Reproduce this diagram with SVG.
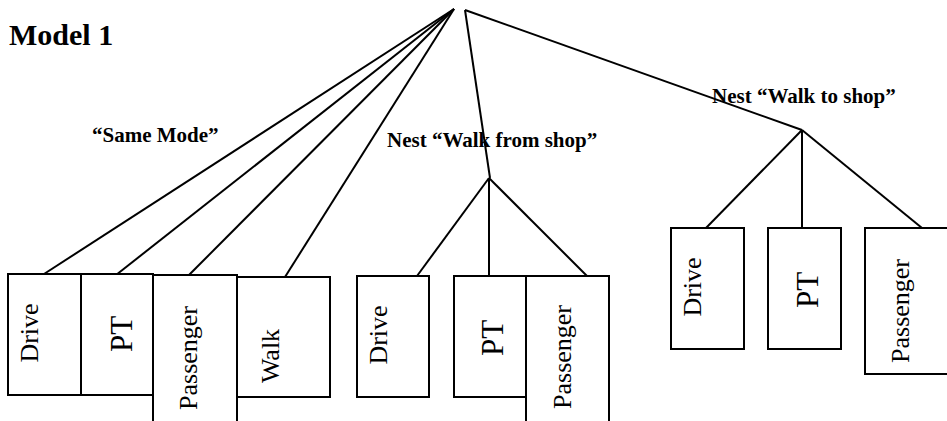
<svg xmlns="http://www.w3.org/2000/svg" width="947" height="421" viewBox="0 0 947 421">
<style>
.bx{fill:#fff;stroke:#000;stroke-width:2}
.ln{stroke:#000;stroke-width:2;fill:none}
.lb{font-family:'Liberation Serif','Times New Roman','DejaVu Serif',serif;font-size:26px;fill:#000;text-anchor:middle}
.pt{font-size:31px}
.hd{font-family:'Liberation Serif','Times New Roman','DejaVu Serif',serif;font-weight:bold;font-size:21px;fill:#000}
</style>
<rect width="947" height="421" fill="#fff"/>
<text class="hd" x="9" y="45" style="font-size:30px">Model 1</text>
<text class="hd" x="92" y="142">“Same Mode”</text>
<text class="hd" x="387" y="147">Nest “Walk from shop”</text>
<g id="connectors">
<line class="ln" x1="454" y1="9" x2="44" y2="274"/>
<line class="ln" x1="454" y1="9" x2="116" y2="275"/>
<line class="ln" x1="454" y1="9" x2="188" y2="276"/>
<line class="ln" x1="454" y1="9" x2="285" y2="277"/>
<line class="ln" x1="465" y1="10" x2="490" y2="178"/>
<line class="ln" x1="465" y1="10" x2="802" y2="130"/>
<line class="ln" x1="489" y1="178" x2="417" y2="276"/>
<line class="ln" x1="489" y1="178" x2="489" y2="276"/>
<line class="ln" x1="489" y1="178" x2="587" y2="276"/>
<line class="ln" x1="802" y1="130" x2="706" y2="228"/>
<line class="ln" x1="802" y1="130" x2="802" y2="228"/>
<line class="ln" x1="802" y1="130" x2="922" y2="228"/>
</g>
<text class="hd" x="712" y="103">Nest “Walk to shop”</text>
<g id="same-drive"><rect class="bx" x="8" y="274" width="73" height="121"/><text class="lb" transform="translate(38,333) rotate(-90)">Drive</text></g>
<g id="same-pt"><rect class="bx" x="81" y="274" width="72" height="121"/><text class="lb pt" transform="translate(132,334) rotate(-90)">PT</text></g>
<g id="same-walk"><rect class="bx" x="237" y="277" width="93" height="120"/><text class="lb" transform="translate(279,356) rotate(-90)">Walk</text></g>
<g id="same-passenger"><rect class="bx" x="153" y="275" width="84" height="152"/><text class="lb" transform="translate(197,358) rotate(-90)">Passenger</text></g>
<g id="from-drive"><rect class="bx" x="357" y="276" width="72" height="121"/><text class="lb" transform="translate(387,335) rotate(-90)">Drive</text></g>
<g id="from-pt"><rect class="bx" x="454" y="276" width="72" height="121"/><text class="lb pt" transform="translate(503,338) rotate(-90)">PT</text></g>
<g id="from-passenger"><rect class="bx" x="526" y="276" width="83" height="151"/><text class="lb" transform="translate(571,357) rotate(-90)">Passenger</text></g>
<g id="to-drive"><rect class="bx" x="671" y="228" width="73" height="121"/><text class="lb" transform="translate(701,287) rotate(-90)">Drive</text></g>
<g id="to-pt"><rect class="bx" x="768" y="228" width="73" height="121"/><text class="lb pt" transform="translate(818,290) rotate(-90)">PT</text></g>
<g id="to-passenger"><rect class="bx" x="865" y="228" width="90" height="146"/><text class="lb" transform="translate(909,311) rotate(-90)">Passenger</text></g>
</svg>
